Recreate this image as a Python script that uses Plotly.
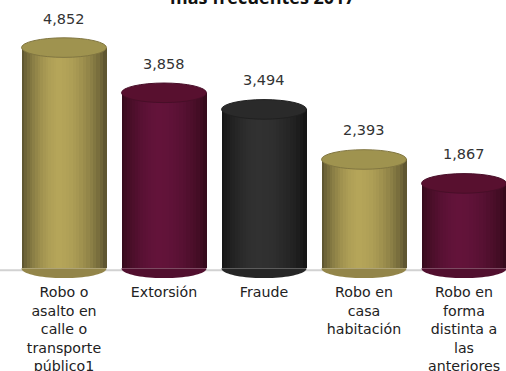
import numpy as np
import plotly.graph_objects as go

categories = ["Robo o<br>asalto en<br>calle o<br>transporte<br>público1",
              "Extorsión", "Fraude",
              "Robo en<br>casa<br>habitación",
              "Robo en<br>forma<br>distinta a<br>las<br>anteriores"]
values = [4852, 3858, 3494, 2393, 1867]
value_labels = ["4,852", "3,858", "3,494", "2,393", "1,867"]
title_text = "más frecuentes 2017"

# (edge colour, highlight colour, top face colour) per bar
edge_cols = ["#5f5631", "#360a1c", "#151515", "#5f5631", "#360a1c"]
peak_cols = ["#b5a559", "#63133a", "#313131", "#b5a559", "#63133a"]
top_cols = ["#9f934f", "#58102f", "#2a2a2a", "#9f934f", "#58102f"]

BW = 0.85
ELL = 215  # half height of elliptical ends in data units
U0 = -0.12  # highlight position across the cylinder (-1..1)
N = 14


def hex2rgb(h):
    h = h.lstrip("#")
    return np.array([int(h[i:i + 2], 16) for i in (0, 2, 4)], dtype=float)


def mix(a, b, t):
    c = hex2rgb(a) * (1 - t) + hex2rgb(b) * t
    return "rgb(%d,%d,%d)" % tuple(np.round(c).astype(int))


x = np.arange(len(values))
fig = go.Figure()
for k in range(N):
    f = k / N
    left = (U0 + (-1 - U0) * (1 - f)) * BW / 2
    right = (U0 + (1 - U0) * (1 - f)) * BW / 2
    t = np.sin(f * np.pi / 2) ** 0.8
    fig.add_trace(go.Bar(
        x=x, y=values, width=[right - left] * len(values), offset=left,
        marker=dict(color=[mix(e, p, t) for e, p in zip(edge_cols, peak_cols)],
                    line=dict(width=0)),
        hoverinfo="skip", showlegend=False))

shapes = []
shapes.append(dict(type="line", xref="paper", yref="y", x0=-0.03, x1=1, y0=-40, y1=-40,
                   line=dict(color="#d2d2d2", width=2), layer="below"))
th = np.linspace(0, np.pi, 40)
for i, v in enumerate(values):
    px = i + (BW / 2) * np.cos(th)
    py = 0 - ELL * np.sin(th)
    path = "M " + " L ".join(f"{a},{b}" for a, b in zip(px, py)) + " Z"
    shapes.append(dict(type="path", xref="x", yref="y", path=path,
                       fillcolor=mix(edge_cols[i], peak_cols[i], 0.6),
                       line=dict(width=0), layer="above"))
    shapes.append(dict(type="circle", xref="x", yref="y",
                       x0=i - BW / 2, x1=i + BW / 2, y0=v - ELL, y1=v + ELL,
                       fillcolor=top_cols[i],
                       line=dict(color=mix(edge_cols[i], peak_cols[i], 0.4), width=1),
                       layer="above"))

annotations = []
for i, (v, lab) in enumerate(zip(values, value_labels)):
    annotations.append(dict(x=i, y=v, xref="x", yref="y", text=lab, showarrow=False,
                            yanchor="middle", yshift=29,
                            font=dict(size=14.5, color="#333333", family="DejaVu Sans")))
annotations.append(dict(x=0.506, y=1, xref="paper", yref="paper",
                        text="<b>" + title_text + "</b>",
                        showarrow=False, yanchor="bottom", yshift=-11,
                        font=dict(size=18, color="#111111", family="Open Sans")))

fig.update_layout(
    width=506, height=371,
    margin=dict(l=14, r=0, t=0, b=89),
    paper_bgcolor="white", plot_bgcolor="white",
    barmode="overlay", bargap=0,
    shapes=shapes, annotations=annotations,
    xaxis=dict(range=[-0.5, 4.42], tickmode="array", tickvals=list(x), ticktext=categories,
               showgrid=False, zeroline=False, showline=False, ticks="",
               tickfont=dict(size=14.2, color="#222222", family="DejaVu Sans"),
               automargin=False),
    yaxis=dict(range=[-300, 5898], visible=False, showgrid=False, zeroline=False),
)
fig.write_html("out.html", config={"displayModeBar": False},
               post_script="document.body.style.margin='0';document.body.style.overflow='hidden';")
